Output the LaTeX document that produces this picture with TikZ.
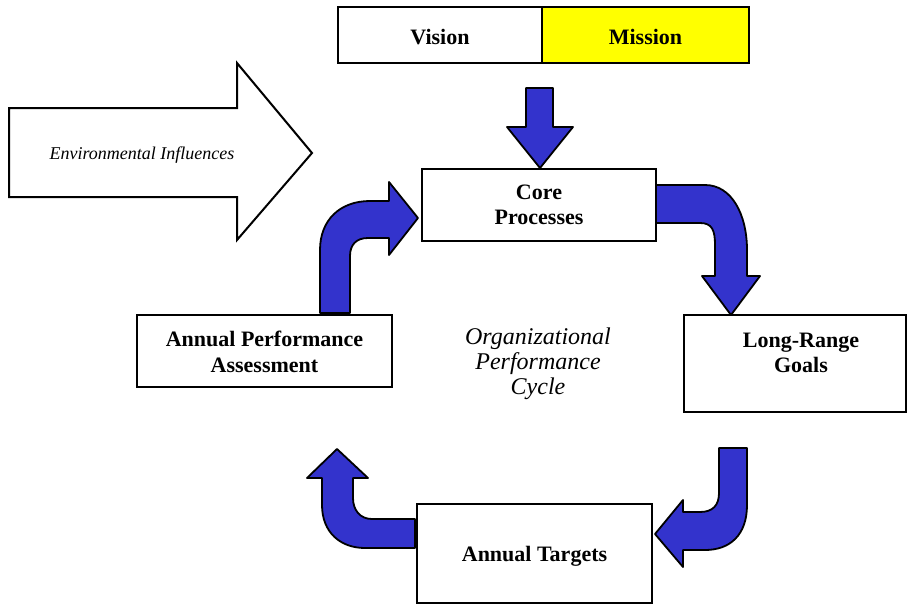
\documentclass[tikz,border=0pt]{standalone}
\usepackage{fontspec}
\setmainfont{Liberation Serif}
\tikzset{
  box/.style={draw=black, line width=2.5pt, fill=white, inner sep=0pt, align=center,
    font=\fontsize{22}{25.5}\selectfont\bfseries},
  boxtext/.style={font=\fontsize{22}{25.5}\selectfont\bfseries, align=center},
  blockarrow/.style={draw=black, line width=1.8pt, fill=arrowblue, line join=round},
  bigarrow/.style={draw=black, line width=2pt, fill=white, line join=miter},
  italictext/.style={font=\fontsize{24}{25}\selectfont\itshape, align=center},
}
\definecolor{arrowblue}{RGB}{51,51,204}
\definecolor{missionyellow}{RGB}{255,255,0}
\begin{document}
\begin{tikzpicture}[x=1pt,y=-1pt]
\useasboundingbox (0,0) rectangle (908,605);

% Environmental influences arrow
\draw[bigarrow] (9,108) -- (237,108) -- (237,63) -- (312,153) -- (237,240) -- (237,197) -- (9,197) -- cycle;
\node[font=\fontsize{18}{20}\selectfont\itshape] (env) at (142,155) {Environmental Influences};

% Vision / Mission
\node[box, minimum width=204pt, minimum height=56pt] (vision) at (440,35) {};
\node[boxtext] (visiontext) at (440,37) {Vision};
\node[box, fill=missionyellow, minimum width=207pt, minimum height=56pt] (mission) at (645.5,35) {};
\node[boxtext] (missiontext) at (645.5,37) {Mission};

% Down arrow
\draw[blockarrow] (526,88) -- (553,88) -- (553,127) -- (573,127) -- (540,168) -- (507,127) -- (526,127) -- cycle;

% Boxes
\node[box, minimum width=234pt, minimum height=72pt] (core) at (539,205) {Core\\Processes};
\node[box, minimum width=255pt, minimum height=72pt] (assess) at (264.5,351) {};
\node[boxtext] (assesstext) at (264.5,352) {Annual Performance\\Assessment};
\node[box, minimum width=222pt, minimum height=97pt] (goals) at (795,363.5) {};
\node[boxtext] (goalstext) at (801,353) {Long-Range\\Goals};
\node[box, minimum width=235pt, minimum height=99pt] (targets) at (534.5,553.5) {};
\node[boxtext] (targetstext) at (534.5,556) {Annual Targets};

% Centre label
\node[italictext] (cycle) at (538,364) {Organizational\\Performance\\Cycle};

% Core -> Long-Range Goals
\draw[blockarrow] (656,185) -- (705,185) .. controls (732,185) and (747,215) .. (747,250)
  -- (747,276) -- (760,276) -- (731,315) -- (702,276) -- (715,276) -- (715,245)
  .. controls (715,230) and (712,223) .. (700,223) -- (656,223) -- cycle;

% Long-Range Goals -> Annual Targets
\draw[blockarrow] (719,448) -- (747,448) -- (747,505) .. controls (747,535) and (730,550) .. (705,550)
  -- (683,550) -- (683,567) -- (655,534) -- (683,500) -- (683,512) -- (700,512)
  .. controls (713,512) and (719,505) .. (719,493) -- cycle;

% Annual Targets -> Assessment
\draw[blockarrow] (415,519) -- (372,519) .. controls (360,519) and (353,510) .. (353,498)
  -- (353,478) -- (368,478) -- (337,449) -- (307,478) -- (322,478) -- (322,505)
  .. controls (322,532) and (340,548) .. (365,548) -- (415,548) -- cycle;

% Assessment -> Core
\draw[blockarrow] (320,313) -- (320,250) .. controls (320,220) and (340,201) .. (370,201)
  -- (389,201) -- (389,182) -- (418,218) -- (389,255) -- (389,238) -- (368,238)
  .. controls (356,238) and (350,245) .. (350,256) -- (350,313) -- cycle;
\end{tikzpicture}
\end{document}
